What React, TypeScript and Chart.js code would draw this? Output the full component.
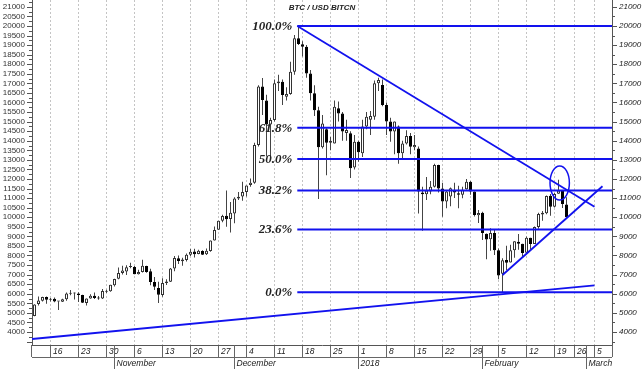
import React, { useEffect, useRef } from "react";
import { Chart, registerables } from "chart.js";

Chart.register(...registerables);

// Daily candles, index 0 = 12 Oct 2017 ... index 133 = 22 Feb 2018.
// Indices 134..144 are the empty future business days (23 Feb .. 9 Mar).
const opens = [
  4830, 5460, 5640, 5830, 5690, 5740, 5600, 5580, 5710, 6000, 6010, 6010, 5940, 5520, 5750, 5900, 5790, 5750, 6110, 6130,
  6440, 6780, 7090, 7160, 7400, 7400, 7020, 7140, 7450, 7170, 6620, 6300, 5940, 6560, 6630, 7320, 7850, 7700, 7770, 8040,
  8210, 8080, 8230, 8070, 8240, 8790, 9350, 9820, 10080, 9910,
  10200, 10980, 11080, 11320, 11690, 11800, 13780, 16830, 16100, 14850, 15080, 17000, 17090, 16300, 16450, 17610, 19360, 19040, 18920, 17520,
  16480, 15600, 13660, 14600, 13900, 13860, 15700, 15430, 14400, 14390, 12600,
  13950, 13340, 14740, 15100, 15260, 17000, 16920, 15870, 15000, 14480, 14740, 13340, 13860, 14250, 13660, 13600, 11300, 11200, 11340, 11600,
  12730, 11500, 10820, 11080, 11420, 11250, 11180, 11470, 11860, 11340, 10110,
  10240, 9140, 8850, 9180, 8270, 7050, 7760, 7640, 8270, 8720, 8620, 8140, 8930, 8600, 9490, 10140, 10210, 11120, 10550, 11230, 11370, 10660,
];
const highs = [
  5450, 5860, 5840, 5850, 5780, 5800, 5610, 5740, 6060, 6190, 6070, 6080, 5950, 5750, 5970, 6060, 5880, 6250, 6210, 6470,
  6780, 7370, 7460, 7490, 7620, 7450, 7250, 7780, 7460, 7310, 6870, 6630, 6810, 6760, 7340, 7970, 8000, 7880, 8100, 8340,
  8350, 8300, 8270, 8370, 8790, 9520, 9820, 10130, 11400, 10800,
  11050, 11320, 11860, 11660, 12030, 13900, 16900, 17280, 16400, 15200, 17200, 17450, 17200, 16800, 18130, 19530, 20000, 19200, 19000, 17700,
  16900, 15780, 15350, 14650, 14200, 16100, 16050, 15500, 15100, 14500, 14300,
  14000, 15100, 15500, 15550, 17150, 17300, 17200, 16000, 15200, 15000, 14800, 14000, 14550, 14400, 14300, 13700, 11600, 12100, 11900, 12800,
  12750, 11800, 11400, 11550, 11800, 11650, 11600, 12000, 11900, 11350, 10380,
  10290, 9150, 9430, 9340, 8360, 7850, 8510, 8560, 8740, 9120, 8620, 8990, 8930, 9520, 10230, 10320, 11140, 11220, 11270, 11960, 11420, 11040,
];
const lows = [
  4820, 5380, 5590, 5480, 5590, 5560, 5150, 5570, 5630, 5920, 5700, 5570, 5510, 5390, 5740, 5730, 5690, 5720, 6040, 6100,
  6380, 6760, 7000, 6980, 7330, 7020, 7010, 7110, 7100, 6440, 6200, 5520, 5840, 6460, 6620, 7180, 7560, 7460, 7690, 7980,
  7890, 8070, 8030, 8020, 8190, 8780, 9340, 9740, 9500, 9200,
  9690, 10900, 10860, 11080, 11600, 11750, 13700, 15350, 13170, 13200, 15000, 16600, 15870, 16100, 16400, 17450, 19000, 18400, 17300, 16100,
  15300, 10950, 13600, 12200, 13500, 13850, 15000, 14000, 14000, 12050, 12500,
  12900, 13150, 14600, 14300, 15100, 16600, 15800, 14300, 13950, 13300, 12800, 13100, 13800, 13300, 13500, 10200, 9300, 10900, 11200, 11550,
  11300, 10030, 10470, 10570, 11000, 10470, 10990, 11450, 11180, 10040, 9700,
  8810, 7800, 8250, 8030, 6760, 6050, 7240, 7640, 7880, 8300, 7930, 8140, 8330, 8600, 9400, 9820, 10150, 10080, 10510, 11230, 10480, 9940,
];
const closes = [
  5440, 5650, 5830, 5680, 5730, 5600, 5590, 5710, 6010, 6030, 6010, 5930, 5530, 5750, 5900, 5780, 5750, 6150, 6130, 6470,
  6770, 7080, 7210, 7380, 7410, 7020, 7140, 7460, 7140, 6620, 6360, 5950, 6560, 6640, 7320, 7870, 7710, 7790, 8040, 8200,
  8070, 8250, 8040, 8250, 8790, 9330, 9820, 10060, 9890, 10230,
  10980, 11070, 11320, 11660, 11800, 13780, 16830, 16130, 14850, 15080, 17000, 17100, 16390, 16450, 17610, 19360, 19060, 18920, 17520, 16480,
  15600, 13660, 14900, 13900, 14000, 15780, 15430, 14480, 14560, 12560, 13950,
  13400, 14740, 15250, 15300, 17000, 17180, 15870, 15000, 14480, 15000, 13340, 13860, 14250, 13690, 13780, 11340, 11200, 11400, 11600, 12730,
  11500, 10820, 11340, 11510, 11300, 11170, 11440, 11860, 11340, 10120, 10220,
  9170, 8830, 9180, 8280, 6960, 7750, 7620, 8270, 8740, 8620, 8130, 8930, 8600, 9490, 10170, 10230, 11110, 10550, 11220, 11400, 10690, 10000,
];

// Axis ticks
const weekTickSlots = [4, 11, 18, 25, 32, 39, 46, 53, 60, 67, 74, 81, 88, 95, 102, 109, 116, 123, 130, 135, 140];
const weekTickLabels = ["16", "23", "30", "6", "13", "20", "27", "4", "11", "18", "25", "1", "8", "15", "22", "29", "5", "12", "19", "26", "5"];
const monthSlots = [20, 50, 81, 112, 138];
const monthLabels = ["November", "December", "2018", "February", "March"];
const leftAxisTicks = [
  4000, 4500, 5000, 5500, 6000, 6500, 7000, 7500, 8000, 8500, 9000, 9500, 10000, 10500, 11000, 11500, 12000, 12500,
  13000, 13500, 14000, 14500, 15000, 15500, 16000, 16500, 17000, 17500, 18000, 18500, 19000, 19500, 20000, 20500, 21000,
];
const rightAxisTicks = [4000, 5000, 6000, 7000, 8000, 9000, 10000, 11000, 12000, 13000, 14000, 15000, 16000, 17000, 18000, 19000, 20000, 21000];

// Fibonacci retracement
const fibHigh = 20000;
const fibLow = 6080;
const fibRatios = [1, 0.618, 0.5, 0.382, 0.236, 0];
const fibLabels = ["100.0%", "61.8%", "50.0%", "38.2%", "23.6%", "0.0%"];
const fibStartSlot = 65.7;

// Trend lines (slot, price)
const longSupport = [{ x: -0.625, y: 3634 }, { x: 140, y: 6440 }];
const downTrend = [{ x: 65.7, y: 20000 }, { x: 140, y: 10550 }];
const upTrend = [{ x: 117, y: 6980 }, { x: 142, y: 11620 }];
const highlight = { slot: 131.3, price: 11790, slotRadius: 2.42, priceRadius: 890 };

const X_MIN = -0.625;
const X_MAX = 144.375;
const Y_MIN = 3320;
const Y_MAX = 21359;

const BLUE = "#1212ee";
const SANS = '"Liberation Sans", Arial, sans-serif';
const SERIF = '"Liberation Serif", "Times New Roman", serif';

export default function App() {
  const ref = useRef<HTMLCanvasElement | null>(null);

  useEffect(() => {
    document.body.style.margin = "0";
    const canvas = ref.current;
    if (!canvas) return;

    const up = opens.map((o, i) => closes[i] >= o);
    const bodies = opens.map((o, i) => ({ x: i, y: [o, closes[i]] }));
    const wicks = highs.map((h, i) => ({ x: i, y: [lows[i], h] }));
    const fibLevels = fibRatios.map((r) => fibLow + r * (fibHigh - fibLow));

    const lineDs = (data: { x: number; y: number }[], width = 2) => ({
      type: "line" as const,
      data,
      borderColor: BLUE,
      borderWidth: width,
      pointRadius: 0,
      fill: false,
      tension: 0,
      order: 0,
    });

    const overlay = {
      id: "overlay",
      afterDraw(chart: any) {
        const { ctx, chartArea: ca, scales } = chart;
        const xs = scales.x;
        const ys = scales.y;
        ctx.save();

        // left axis tick marks
        ctx.strokeStyle = "#555";
        ctx.lineWidth = 1;
        for (let v = 3500; v <= 21250; v += 250) {
          const py = Math.round(ys.getPixelForValue(v)) + 0.5;
          const len = v % 500 === 0 ? 5 : 3;
          ctx.beginPath();
          ctx.moveTo(ca.left - len, py);
          ctx.lineTo(ca.left, py);
          ctx.stroke();
        }
        // right axis tick marks
        for (let v = 3500; v <= 21000; v += 500) {
          const py = Math.round(ys.getPixelForValue(v)) + 0.5;
          const len = v % 1000 === 0 ? 5 : 3;
          ctx.beginPath();
          ctx.moveTo(ca.right, py);
          ctx.lineTo(ca.right + len, py);
          ctx.stroke();
        }

        // x axis frame
        const rowY = ca.bottom + 12;
        ctx.strokeStyle = "#666";
        ctx.beginPath();
        ctx.moveTo(ca.left, rowY + 0.5);
        ctx.lineTo(ca.right, rowY + 0.5);
        ctx.moveTo(Math.round(ca.left) - 0.5, ca.bottom);
        ctx.lineTo(Math.round(ca.left) - 0.5, rowY);
        ctx.moveTo(Math.round(ca.right) + 0.5, ca.bottom);
        ctx.lineTo(Math.round(ca.right) + 0.5, rowY);
        ctx.stroke();

        // week labels
        ctx.fillStyle = "#222";
        ctx.font = `italic 8.5px ${SANS}`;
        ctx.textAlign = "left";
        ctx.textBaseline = "middle";
        weekTickSlots.forEach((s, i) => {
          const px = xs.getPixelForValue(s);
          ctx.fillText(weekTickLabels[i], px + 2.5, ca.bottom + 6.5);
        });
        // month separators and labels
        monthSlots.forEach((s, i) => {
          const px = Math.round(xs.getPixelForValue(s) - 1) + 0.5;
          ctx.beginPath();
          ctx.moveTo(px, ca.bottom);
          ctx.lineTo(px, chart.height);
          ctx.stroke();
          ctx.fillText(monthLabels[i], px + 2, rowY + 6.5);
        });

        // fibonacci labels
        ctx.font = `italic bold 13px ${SERIF}`;
        ctx.textAlign = "right";
        ctx.fillStyle = "#222";
        const fx = xs.getPixelForValue(fibStartSlot) - 5;
        fibLevels.forEach((lv, i) => {
          ctx.fillText(fibLabels[i], fx, ys.getPixelForValue(lv) + 0.5);
        });

        // highlight ellipse
        const cx = xs.getPixelForValue(highlight.slot);
        const cy = ys.getPixelForValue(highlight.price);
        const rx = xs.getPixelForValue(highlight.slot + highlight.slotRadius) - cx;
        const ry = ys.getPixelForValue(highlight.price - highlight.priceRadius) - cy;
        ctx.strokeStyle = BLUE;
        ctx.lineWidth = 1.5;
        ctx.beginPath();
        ctx.ellipse(cx, cy, rx, ry, 0, 0, Math.PI * 2);
        ctx.stroke();

        // title
        ctx.fillStyle = "#222";
        ctx.font = `italic bold 8px ${SANS}`;
        ctx.textAlign = "center";
        ctx.fillText("BTC / USD BITCN", 322, 8);

        ctx.restore();
      },
    };

    const chart = new Chart(canvas, {
      type: "bar",
      data: {
        datasets: [
          ...fibLevels.map((lv) => lineDs([{ x: fibStartSlot, y: lv }, { x: X_MAX, y: lv }], 2)),
          lineDs(longSupport, 1.8),
          lineDs(downTrend, 1.8),
          lineDs(upTrend, 1.8),
          {
            type: "bar" as const,
            data: bodies as any,
            backgroundColor: up.map((u) => (u ? "#ffffff" : "#000000")),
            borderColor: up.map((u) => (u ? "#333333" : "#000000")),
            borderWidth: 1,
            borderSkipped: false,
            barThickness: 3,
            minBarLength: 1,
            inflateAmount: 0,
            grouped: false,
            order: 1,
          },
          {
            type: "bar" as const,
            data: wicks as any,
            backgroundColor: "#444444",
            borderWidth: 0,
            barThickness: 1,
            inflateAmount: 0,
            grouped: false,
            order: 2,
          },
        ] as any,
      },
      options: {
        responsive: false,
        animation: false,
        devicePixelRatio: 1,
        layout: { padding: 0 },
        plugins: { legend: { display: false }, tooltip: { enabled: false }, title: { display: false } },
        events: [],
        scales: {
          x: {
            type: "linear",
            position: "bottom",
            min: X_MIN,
            max: X_MAX,
            offset: false,
            afterBuildTicks: (s: any) => {
              s.ticks = weekTickSlots.map((v) => ({ value: v }));
            },
            afterFit: (s: any) => {
              s.height = 24;
              s.paddingLeft = 0;
              s.paddingRight = 0;
            },
            ticks: { display: false },
            grid: {
              display: true,
              offset: false,
              color: "#c4c4c4",
              lineWidth: 1,
              drawOnChartArea: true,
              drawTicks: true,
              tickLength: 12,
              tickColor: "#666",
              tickWidth: 1,
            },
            border: { display: true, color: "#555", width: 1, dash: [2, 2] },
          },
          y: {
            type: "linear",
            position: "left",
            min: Y_MIN,
            max: Y_MAX,
            afterBuildTicks: (s: any) => {
              s.ticks = leftAxisTicks.map((v) => ({ value: v }));
            },
            afterFit: (s: any) => {
              s.width = 32;
              s.paddingTop = 0;
              s.paddingBottom = 0;
            },
            ticks: {
              autoSkip: false,
              padding: 7,
              color: "#333",
              font: { family: SANS, size: 8 },
              callback: (v: any) => String(v),
            },
            grid: { display: false, drawTicks: false },
            border: { display: true, color: "#555", width: 1 },
          },
          y2: {
            type: "linear",
            position: "right",
            min: Y_MIN,
            max: Y_MAX,
            afterBuildTicks: (s: any) => {
              s.ticks = rightAxisTicks.map((v) => ({ value: v }));
            },
            afterFit: (s: any) => {
              s.width = 31;
              s.paddingTop = 0;
              s.paddingBottom = 0;
            },
            ticks: {
              autoSkip: false,
              padding: 7,
              color: "#222",
              font: { family: SANS, size: 8, style: "italic" },
              callback: (v: any) => String(v),
            },
            grid: { display: false, drawTicks: false },
            border: { display: true, color: "#555", width: 1 },
          },
        },
      } as any,
      plugins: [overlay],
    });

    return () => chart.destroy();
  }, []);

  return <canvas ref={ref} width={643} height={369} style={{ display: "block" }} />;
}
